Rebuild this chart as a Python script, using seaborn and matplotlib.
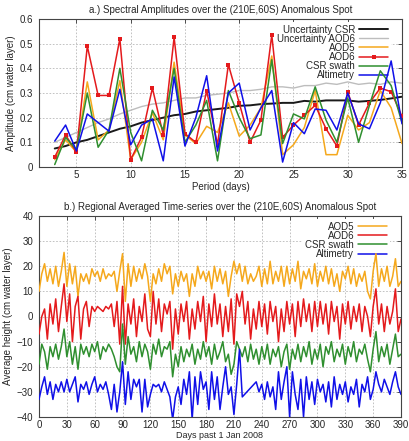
import numpy as np
import pandas as pd
import matplotlib
matplotlib.use("Agg")
import matplotlib.pyplot as plt
import seaborn as sns
from matplotlib.ticker import FuncFormatter, MultipleLocator

# ---------------- data: panel a (spectral amplitudes) ----------------
periods = list(range(3, 36))
unc_csr = [0.075, 0.085, 0.100, 0.110, 0.125, 0.140, 0.155, 0.165, 0.180, 0.190,
           0.200, 0.210, 0.215, 0.225, 0.230, 0.235, 0.240, 0.248, 0.250, 0.255,
           0.257, 0.260, 0.260, 0.268, 0.265, 0.270, 0.270, 0.270, 0.265, 0.268,
           0.272, 0.278, 0.285]
unc_aod6 = [0.10, 0.12, 0.14, 0.16, 0.18, 0.195, 0.215, 0.23, 0.245, 0.255,
            0.26, 0.27, 0.28, 0.28, 0.29, 0.295, 0.30, 0.31, 0.31, 0.315,
            0.325, 0.325, 0.32, 0.33, 0.33, 0.34, 0.335, 0.345, 0.335, 0.34,
            0.335, 0.345, 0.34]
amp_aod5 = [0.03, 0.11, 0.06, 0.345, 0.11, 0.15, 0.35, 0.03, 0.10, 0.22,
            0.11, 0.425, 0.13, 0.095, 0.165, 0.14, 0.26, 0.125, 0.17, 0.24,
            0.45, 0.05, 0.09, 0.16, 0.31, 0.05, 0.05, 0.21, 0.15, 0.18,
            0.31, 0.24, 0.095]
amp_aod6 = [0.04, 0.13, 0.06, 0.49, 0.29, 0.29, 0.52, 0.03, 0.12, 0.32,
            0.13, 0.525, 0.135, 0.10, 0.31, 0.09, 0.415, 0.26, 0.10, 0.19,
            0.535, 0.12, 0.17, 0.21, 0.25, 0.155, 0.085, 0.305, 0.17, 0.26,
            0.32, 0.305, 0.205]
amp_csr = [0.01, 0.12, 0.07, 0.30, 0.08, 0.15, 0.40, 0.14, 0.025, 0.23,
           0.15, 0.40, 0.10, 0.17, 0.27, 0.025, 0.31, 0.20, 0.115, 0.13,
           0.435, 0.095, 0.215, 0.195, 0.325, 0.19, 0.10, 0.28, 0.10, 0.25,
           0.39, 0.33, 0.18]
amp_alt = [0.105, 0.17, 0.065, 0.215, 0.18, 0.145, 0.315, 0.09, 0.17, 0.195,
           0.025, 0.365, 0.085, 0.20, 0.37, 0.065, 0.30, 0.34, 0.15, 0.24,
           0.31, 0.02, 0.18, 0.135, 0.235, 0.23, 0.15, 0.30, 0.175, 0.155,
           0.26, 0.43, 0.175]

# ---------------- data: panel b (time series, every 3 days) ----------------
days = list(range(0, 391, 3))
ts_aod5 = [10, 17, 21, 14, 19, 13, 20, 12, 18, 25.5,
           12, 21, 13, 20, 8, 17, 14, 17, 13, 19,
           16, 18, 14, 19, 15, 17, 16, 18, 10, 18,
           25, 6, 21, 12, 20, 14, 19, 15, 21, 16,
           6, 17, 13, 19, 14, 21, 17, 20, 9, 17,
           12, 18, 14, 17, 8, 17, 12, 20, 15, 18,
           14, 18, 11, 20, 14, 19, 13, 18, 8, 16,
           22, 17, 21, 14, 20, 13, 17, 14, 16, 20,
           12, 19, 13, 22, 13, 18, 14, 20, 12, 20,
           13, 19, 14, 22, 11, 18, 15, 19, 13, 21,
           12, 18, 14, 20, 13, 19, 12, 17, 10, 18,
           15, 20, 13, 19, 12, 17, 14, 18, 10, 7,
           18, 25, 12, 19, 14, 20, 12, 16, 23, 12,
           14]
ts_aod6 = [-7, 0, 3, -9, 5, -3, 7, -6, 4, 13,
           -2, 9, -10, 4, 8, -9, 3, 6, -4, 4,
           2, 4, 3, 2, 4, 3, 5, -4, 6, -11,
           12, -11, 5, -3, 7, -8, 4, -2, 9, -5,
           -8, 10, -3, 7, -6, 5, 1, 6, -13, 3,
           -7, 5, -2, 6, -9, 3, -5, 6, -2, 8,
           -10, 5, -4, 9, -3, 5, -8, 4, -6, 7,
           -11, 9, 4, 10, -3, 6, -9, 3, -5, 6,
           -4, 5, -7, 6, -2, 4, -10, 3, -6, 6,
           -3, 5, -8, 6, -4, 7, -2, 5, -6, 6,
           -4, 6, -3, 5, -7, 6, -2, 4, -9, 5,
           -3, 6, -5, 4, -2, 5, -6, 4, 0, -8,
           4, 11, -3, 5, -6, 4, -3, 2, 11, -6,
           -1]
ts_csr = [-19, -11, -14, -21, -12, -16, -11, -17, -12, -5,
          -16, -10, -19, -12, -21, -11, -15, -12, -16, -11,
          -14, -10, -17, -12, -14, -11, -13, -16, -20, -22,
          -3, -19, -8, -15, -12, -18, -10, -16, -11, -14,
          -21, -11, -15, -9, -16, -12, -13, -10, -24, -15,
          -20, -12, -18, -13, -16, -11, -19, -13, -17, -10,
          -16, -12, -19, -11, -17, -14, -10, -18, -15, -23,
          -19, -10, -13, -16, -12, -18, -11, -17, -13, -19,
          -12, -17, -11, -19, -13, -16, -12, -20, -14, -11,
          -21, -13, -17, -11, -18, -12, -16, -10, -19, -13,
          -17, -11, -20, -12, -15, -10, -18, -13, -16, -11,
          -19, -12, -16, -10, -18, -13, -15, -11, -17, -22,
          -13, -6, -18, -12, -16, -11, -19, -13, -7, -16,
          -15]
ts_alt = [-33, -28, -24, -31, -26, -33, -27, -30, -26, -30,
          -25, -30, -27, -24, -34, -27, -29, -26, -31, -27,
          -24, -30, -27, -29, -26, -31, -37, -27, -38, -30,
          -18, -35, -22, -33, -25, -28, -25, -38, -25, -36,
          -31, -27, -28, -27, -30, -26, -29, -32, -41, -32,
          -28, -35, -25, -31, -22, -41, -24, -35, -22, -29,
          -26, -37, -22, -33, -24, -37, -28, -20, -31, -28,
          -39, -27, -13, -32, None, None, None, None, -26, -30,
          -27, -33, -26, -32, -28, -37, -22, -33, -26, -20,
          -40, -22, -31, -37, -25, -40, -24, -33, -26, -35,
          -25, -30, -27, -34, -26, -36, -24, -33, -27, -31,
          -26, -34, -28, -31, -25, -36, -27, -30, -24, -33,
          -29, -22, -27, -30, -25, -28, -31, -26, -22, -28,
          -31]

period_ticks = [5, 10, 15, 20, 25, 30, 35]
day_ticks = list(range(0, 391, 30))

C_ORANGE = "#f5a81c"
C_RED = "#e41a1c"
C_GREEN = "#2f8f2f"
C_BLUE = "#1010e8"
C_GRAY = "#bdbdbd"

sns.set_style("white")
plt.rcParams['font.family'] = ['Liberation Sans', 'DejaVu Sans']
FS = 7

fig = plt.figure(figsize=(4.09, 4.41), dpi=100)
ax1 = fig.add_axes([39 / 409, 1 - 167 / 441, 363 / 409, 148 / 441])
ax2 = fig.add_axes([39 / 409, 1 - 417 / 441, 362 / 409, 201 / 441])

# ---------------- panel a ----------------
spec = [("Uncertainty CSR", unc_csr, "#1a1a1a", 1.4, None),
        ("Uncertainty AOD6", unc_aod6, C_GRAY, 1.0, None),
        ("AOD5", amp_aod5, C_ORANGE, 1.1, None),
        ("AOD6", amp_aod6, C_RED, 1.1, "s"),
        ("CSR swath", amp_csr, C_GREEN, 1.1, None),
        ("Altimetry", amp_alt, C_BLUE, 1.1, None)]
for name, vals, col, lw, mk in spec:
    kw = dict(marker=mk, markersize=2.8, markeredgewidth=0) if mk else {}
    sns.lineplot(x=periods, y=vals, ax=ax1, color=col, lw=lw, label=name, zorder=3, **kw)

ax1.set_xlim(1.55, 35)
ax1.set_ylim(0, 0.6)
ax1.set_xticks(period_ticks)
ax1.yaxis.set_major_locator(MultipleLocator(0.1))
ax1.yaxis.set_major_formatter(FuncFormatter(lambda v, p: "%g" % round(v, 2)))
ax1.set_xlabel("Period (days)", fontsize=FS, labelpad=1)
ax1.set_ylabel("Amplitude (cm water layer)", fontsize=FS, labelpad=3)
ax1.set_title("a.) Spectral Amplitudes over the (210E,60S) Anomalous Spot", fontsize=FS, pad=4)

# ---------------- panel b ----------------
series_b = [("AOD5", ts_aod5, C_ORANGE), ("AOD6", ts_aod6, C_RED),
            ("CSR swath", ts_csr, C_GREEN), ("Altimetry", ts_alt, C_BLUE)]
for name, vals, col in series_b:
    df = pd.DataFrame({"day": days, "v": np.array(vals, dtype=float)}).dropna()
    sns.lineplot(data=df, x="day", y="v", ax=ax2, color=col, lw=1.1, label=name, zorder=3)

ax2.set_xlim(0, 390)
ax2.set_ylim(-40, 40)
ax2.set_xticks(day_ticks)
ax2.yaxis.set_major_locator(MultipleLocator(10))
ax2.set_xlabel("Days past 1 Jan 2008", fontsize=6.5, labelpad=0.5)
ax2.set_ylabel("Average height (cm water layer)", fontsize=FS, labelpad=3)
ax2.set_title("b.) Regional Averaged Time-series over the (210E,60S) Anomalous Spot", fontsize=FS, pad=4)

for ax in (ax1, ax2):
    ax.set_axisbelow(True)
    ax.grid(True, color="#b8b8b8", lw=0.6, ls=(0, (2, 2)))
    ax.tick_params(direction="in", length=3, width=0.6, labelsize=FS, pad=4,
                   top=True, right=True, color="#333333")
    ax.tick_params(axis="x", pad=2.5)
    for s in ax.spines.values():
        s.set_color("#444444")
        s.set_linewidth(0.8)
    leg = ax.legend(loc="upper right", bbox_to_anchor=(0.978, 1.0), fontsize=FS,
                    markerfirst=False, frameon=True,
                    handlelength=3.0, handletextpad=0.4, labelspacing=-0.1,
                    borderpad=0.3, borderaxespad=0.3, fancybox=False)
    leg.get_frame().set_facecolor("white")
    leg.get_frame().set_edgecolor("none")
    leg.get_frame().set_alpha(1.0)
    leg.set_zorder(2)

fig.savefig("out.png", dpi=100)
